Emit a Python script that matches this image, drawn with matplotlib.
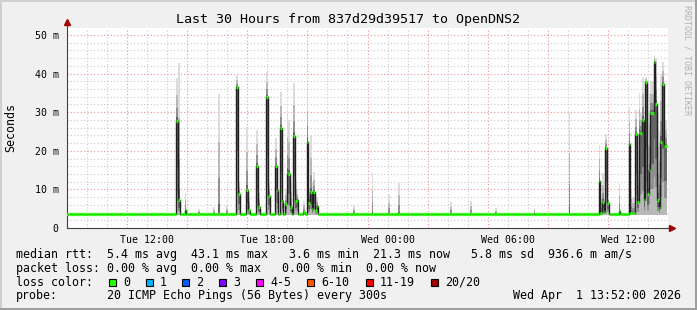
import numpy as np
import matplotlib.pyplot as plt
from matplotlib.patches import Rectangle

# 5-minute slots counted from Tue 08:00 (360 slots = 30 hours)
n_slots = 360
baseline_ms = 3.6
lo_ms = 3.4

# slots where the median or the smoke leaves the baseline
spike_slot = [66, 67, 71, 79, 88, 91, 96, 102, 103, 108, 109, 114, 115, 120, 121,
              125, 126, 128, 129, 131, 132, 133, 134, 136, 137, 138, 142, 144, 145,
              146, 147, 148, 149, 150, 172, 183, 193, 199, 230, 242, 257, 280, 301,
              319, 320, 321, 322, 323, 324, 331, 337, 338, 339, 340, 341, 342, 343,
              344, 345, 346, 347, 348, 349, 350, 351, 352, 353, 354, 355, 356, 357,
              358, 359]
spike_median = [27.8, 7.2, 4.6, 3.6, 3.6, 3.6, 3.6, 36.4, 8.8, 9.8, 4.7, 16.1, 5.5, 34.0, 8.4,
                16.1, 9.8, 25.8, 7.1, 6.2, 14.3, 14.0, 5.5, 23.7, 7.1, 7.3, 4.2, 22.4, 6.6,
                9.2, 5.0, 9.4, 4.7, 5.7, 3.6, 3.6, 3.6, 3.6, 3.6, 3.6, 3.6, 3.6, 3.6,
                12.3, 4.0, 6.8, 4.2, 20.6, 6.4, 4.4, 21.8, 4.0, 4.0, 3.9, 24.4, 6.8, 24.7,
                24.7, 28.0, 7.3, 37.7, 8.7, 15.0, 29.9, 29.9, 42.9, 32.1, 7.3, 5.3, 22.4, 37.3,
                21.2, 21.2]
spike_top = [38.9, 42.7, 9.0, 5.0, 5.5, 34.7, 6.0, 39.6, 12.0, 26.2, 8.0, 25.4, 9.0, 40.5, 12.0,
             23.3, 14.0, 35.3, 12.0, 10.0, 29.3, 28.0, 12.0, 37.5, 12.0, 10.0, 7.0, 35.7, 10.0,
             24.0, 12.0, 14.6, 8.0, 8.0, 6.0, 14.2, 8.5, 11.7, 6.8, 6.9, 5.1, 5.3, 30.0,
             21.5, 8.0, 14.2, 8.0, 24.3, 8.0, 11.4, 31.4, 10.0, 8.0, 8.0, 30.6, 20.0, 35.0,
             30.0, 39.2, 25.0, 39.2, 30.0, 35.0, 38.0, 38.0, 44.8, 44.0, 30.0, 25.0, 40.0, 43.0,
             35.0, 28.0]

tick_hours = [4, 10, 16, 22, 28]
tick_labels = ["Tue 12:00", "Tue 18:00", "Wed 00:00", "Wed 06:00", "Wed 12:00"]

loss_labels = ["0", "1", "2", "3", "4-5", "6-10", "11-19", "20/20"]
loss_colors = ["#26ff00", "#00b8ff", "#0059ff", "#7e00ff", "#ff00ff", "#ff5500", "#ff0000", "#a10000"]
loss_box_x = [109, 146, 182, 219, 256, 307, 366, 431]

legend_lines = [
    "median rtt:  5.4 ms avg  43.1 ms max   3.6 ms min  21.3 ms now   5.8 ms sd  936.6 m am/s",
    "packet loss: 0.00 % avg  0.00 % max   0.00 % min  0.00 % now",
]

median = np.full(n_slots, baseline_ms)
top = np.full(n_slots, baseline_ms)
median[spike_slot] = spike_median
top[spike_slot] = spike_top
t = np.arange(n_slots) / 12.0

W, H = 697, 310
plt.rcParams['font.family'] = ['DejaVu Sans Mono']
fig = plt.figure(figsize=(W / 100, H / 100), dpi=100, facecolor='#f0f0f0')


def fx(x):
    return x / W


def fy(y):
    return 1 - y / H


# frame
fig.patches.append(Rectangle((0, fy(2)), 1, 2 / H, transform=fig.transFigure, fc='#cfcfcf', ec='none'))
fig.patches.append(Rectangle((0, 0), 2 / W, 1, transform=fig.transFigure, fc='#cfcfcf', ec='none'))
fig.patches.append(Rectangle((0, 0), 1, 2 / H, transform=fig.transFigure, fc='#9e9e9e', ec='none'))
fig.patches.append(Rectangle((1 - 2 / W, 0), 2 / W, 1, transform=fig.transFigure, fc='#9e9e9e', ec='none'))

ax = fig.add_axes([fx(67), fy(228), fx(668 - 67), (228 - 28) / H])
ax.set_facecolor('white')
ax.set_xlim(0, 30)
ax.set_ylim(0, 51.8)

# grid
for h in range(1, 30):
    if h % 3 == 0:
        ax.axvline(h, color='#f09090', lw=0.8, ls=(0, (1, 2)), zorder=0)
    else:
        ax.axvline(h, color='#c8c8c8', lw=0.8, ls=(0, (1, 2)), zorder=0)
for v in np.arange(2, 52, 2):
    if v % 10 == 0:
        ax.axhline(v, color='#f09090', lw=0.8, ls=(0, (1, 2)), zorder=0)
    else:
        ax.axhline(v, color='#c8c8c8', lw=0.8, ls=(0, (1, 2)), zorder=0)

# smoke
shades = [(0.0, 1.0, '#dcdcdc'), (0.0, 0.6, '#b8b8b8'), (0.25, 0.3, '#909090'), (0.5, 0.08, '#646464')]
mask = top > baseline_ms + 0.2
for f_lo, f_hi, c in shades:
    lo = lo_ms + (median - lo_ms) * f_lo
    hi = median + (top - median) * f_hi
    ax.bar(t[mask], (hi - lo)[mask], bottom=lo[mask], width=1 / 12, color=c, lw=0, zorder=1)

# median
ax.plot(t, median, drawstyle='steps-mid', color='#202020', lw=1.0, zorder=2)
ax.hlines(median, t - 1 / 24, t + 1 / 24, colors=loss_colors[0], lw=2.3, zorder=3)

ax.set_xticks(tick_hours)
ax.set_xticklabels(tick_labels)
ax.set_yticks([0, 10, 20, 30, 40, 50])
ax.set_yticklabels(["0", "10 m", "20 m", "30 m", "40 m", "50 m"])
ax.tick_params(axis='both', labelsize=7.1, length=0, colors='#000000')
ax.tick_params(axis='x', pad=5)
ax.tick_params(axis='y', pad=6)
for s in ['top', 'right']:
    ax.spines[s].set_visible(False)
ax.spines['left'].set_color('#404040')
ax.spines['bottom'].set_color('#404040')
ax.spines['left'].set_bounds(0, 52.8)
ax.spines['bottom'].set_bounds(0, 30.2)
ax.spines['left'].set_linewidth(0.8)
ax.spines['bottom'].set_linewidth(0.8)
ax.plot([0], [53.3], marker='^', ms=4, color='#a00000', clip_on=False, zorder=5)
ax.plot([30.2], [0], marker='>', ms=4, color='#a00000', clip_on=False, zorder=5)

fig.text(0.5, fy(19), "Last 30 Hours from 837d29d39517 to OpenDNS2", ha='center', va='center', fontsize=9.6)
fig.text(fx(11), fy(128), "Seconds", rotation=90, ha='center', va='center', fontsize=8.4)
fig.text(fx(687), fy(5), "RRDTOOL / TOBI OETIKER", rotation=270, ha='center', va='top', fontsize=6, color='#b0b0b0')

fig.text(fx(16), fy(254.3), legend_lines[0], ha='left', va='center', fontsize=8.35)
fig.text(fx(16), fy(268.3), legend_lines[1], ha='left', va='center', fontsize=8.35)
fig.text(fx(16), fy(282.3), "loss color:", ha='left', va='center', fontsize=8.35)
for bx, lab, c in zip(loss_box_x, loss_labels, loss_colors):
    fig.patches.append(Rectangle((fx(bx), fy(286)), 7 / W, 7 / H, transform=fig.transFigure,
                                 fc=c, ec='black', lw=0.8))
    fig.text(fx(bx + 14), fy(282.3), lab, ha='left', va='center', fontsize=8.35)
fig.text(fx(16), fy(295.7), "probe:", ha='left', va='center', fontsize=8.35)
fig.text(fx(107), fy(295.7), "20 ICMP Echo Pings (56 Bytes) every 300s", ha='left', va='center', fontsize=8.35)
fig.text(fx(681), fy(295.7), "Wed Apr  1 13:52:00 2026", ha='right', va='center', fontsize=8.35)

fig.savefig('out.png', dpi=100, facecolor=fig.get_facecolor())
